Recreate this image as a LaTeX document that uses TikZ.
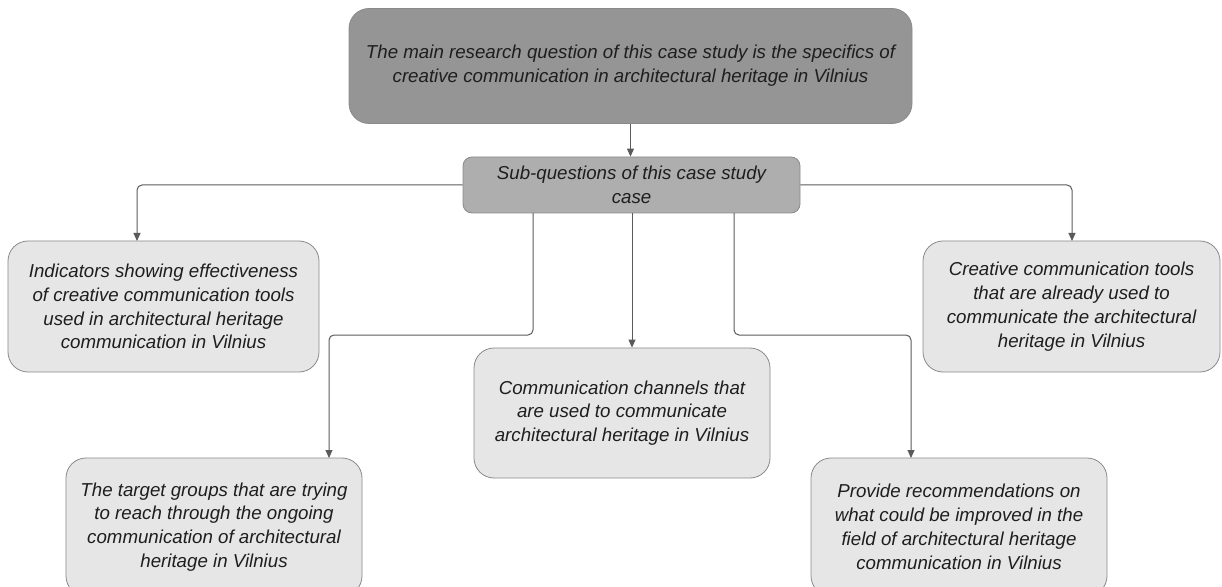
\documentclass[tikz,border=0pt]{standalone}
\usepackage{fontspec}
\setmainfont{Liberation Sans}
\usetikzlibrary{arrows.meta}
\definecolor{txt}{HTML}{1E1E1E}
\definecolor{edge}{HTML}{8A8A8A}
\definecolor{wire}{HTML}{5A5A5A}
\definecolor{darkfill}{HTML}{959595}
\definecolor{midfill}{HTML}{AEAEAE}
\definecolor{lightfill}{HTML}{E6E6E6}
\tikzset{
  box/.style={draw=edge, line width=0.8bp, rounded corners=20bp, fill=lightfill,
    text=txt, align=center, inner sep=0pt,
    font=\fontsize{18.7bp}{23.8bp}\selectfont\itshape},
  mainbox/.style={box, fill=darkfill},
  subbox/.style={box, fill=midfill, rounded corners=9bp},
  link/.style={draw=wire, line width=1bp, rounded corners=5bp,
    -{Triangle[length=8bp,width=7bp]}}
}
\begin{document}
\begin{tikzpicture}[x=1bp,y=-1bp]
\useasboundingbox (0,0) rectangle (1222,587);
\begin{scope}
\clip (0,0) rectangle (1222,587);
\node[mainbox, minimum width=563bp, minimum height=115bp] (main) at (630.5,66)
  {The main research question of this case study is the specifics of\\creative communication in architectural heritage in Vilnius};
\node[subbox, minimum width=337bp, minimum height=56bp] (sub) at (631.5,185)
  {Sub-questions of this case study\\case};
\node[box, minimum width=311bp, minimum height=131bp] (ind) at (163.5,306.5)
  {Indicators showing effectiveness\\of creative communication tools\\used in architectural heritage\\communication in Vilnius};
\node[box, minimum width=297bp, minimum height=131bp] (cre) at (1071.5,306.5)
  {Creative communication tools\\that are already used to\\communicate the architectural\\heritage in Vilnius};
\node[box, minimum width=296bp, minimum height=130bp] (chan) at (622,413)
  {Communication channels that\\are used to communicate\\architectural heritage in Vilnius};
\node[box, minimum width=296bp, minimum height=138bp] (tgt) at (214,527)
  {The target groups that are trying\\to reach through the ongoing\\communication of architectural\\heritage in Vilnius};
\node[box, minimum width=296bp, minimum height=138bp] (rec) at (959,527)
  {Provide recommendations on\\what could be improved in the\\field of architectural heritage\\communication in Vilnius};
\end{scope}
\coordinate (c1) at (533,213);
\coordinate (c2) at (734,213);
\coordinate (c3) at (632,213);
\coordinate (t1) at (137,241);
\coordinate (t2) at (1072,241);
\coordinate (t3) at (329,458);
\coordinate (t4) at (911,458);
\draw[link] (main.south) -- (main.south |- sub.north);
\draw[link] (sub.west) -| (t1);
\draw[link] (sub.east) -| (t2);
\draw[link] (c3) -- (c3 |- chan.north);
\draw[link] (c1) -- (533,335) -| (t3);
\draw[link] (c2) -- (734,335) -| (t4);
\end{tikzpicture}
\end{document}
